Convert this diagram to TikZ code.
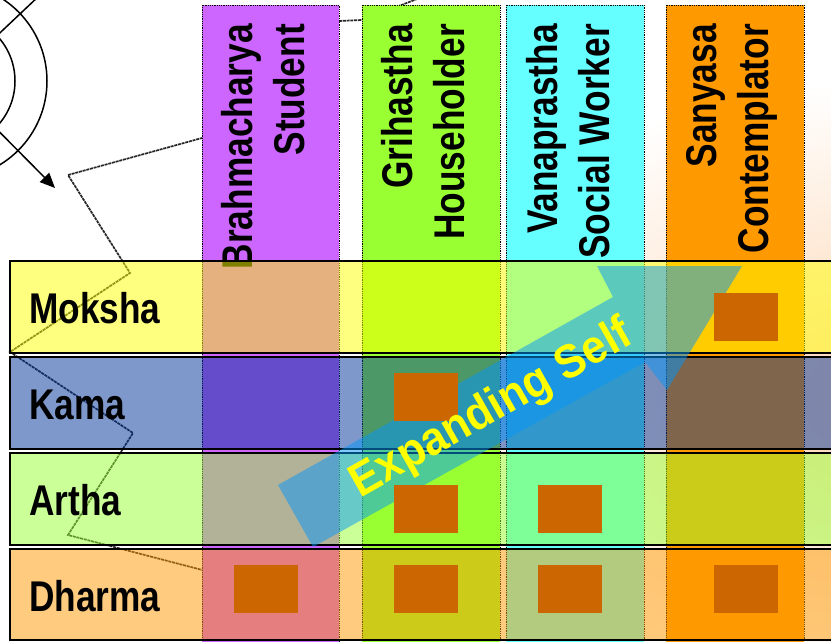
\documentclass[tikz,border=0pt]{standalone}
\usepackage{fontspec}
\setmainfont{Liberation Sans}
\newfontfamily\narrowsans[FakeStretch=0.82]{Liberation Sans}
\newfontfamily\arrowsans[FakeStretch=0.93]{Liberation Sans}
\usetikzlibrary{arrows.meta}
\definecolor{colpurple}{HTML}{CC66FF}
\definecolor{colgreen}{HTML}{99FF33}
\definecolor{colcyan}{HTML}{66FFFF}
\definecolor{colorange}{HTML}{FF9900}
\definecolor{rowyellow}{HTML}{FFFF00}
\definecolor{rowblue}{HTML}{003399}
\definecolor{rowgreen}{HTML}{99FF33}
\definecolor{roworange}{HTML}{FF9900}
\definecolor{sqc}{HTML}{CC6600}
\definecolor{arrowc}{RGB}{5,150,250}
\definecolor{peach}{RGB}{253,213,176}
\definecolor{textyellow}{HTML}{FFFF00}
\begin{document}
\begin{tikzpicture}[x=1pt,y=-1pt,
  colbox/.style={draw=black, dash pattern=on 0.9pt off 0.9pt, line width=0.9pt},
  rowbox/.style={draw=black, line width=1.6pt, fill opacity=0.5},
  sqbox/.style={fill=sqc},
  lbl/.style={font=\narrowsans\bfseries\fontsize{43}{52}\selectfont, inner sep=0pt, text=black},
  collbl/.style={lbl, rotate=90, anchor=north east, align=right},
  edgeline/.style={draw=black!85, line width=1.7pt, dash pattern=on 3pt off 0.8pt},
  circline/.style={draw=black, line width=1.5pt}
]
\useasboundingbox (0,0) rectangle (831,642);
\clip (0,0) rectangle (831,642);
% background
\fill[white] (0,0) rectangle (831,642);
\shade[inner color=peach, outer color=white] (900,400) ellipse [x radius=500, y radius=320];
% white paper shape edges
\draw[edgeline] (425,-4) -- (362,20) -- (339,21) -- (202,138) -- (68,175) -- (130,273) -- (10,352) -- (133,433) -- (68,535) -- (210,572);
% circles and arrows at top left
\coordinate (ctr) at (-51,81);
\coordinate (upend) at (40,-5);
\coordinate (tip) at (55,188);
\draw[circline] (ctr) circle (66);
\draw[circline] (ctr) circle (98);
\draw[circline] (ctr) -- (upend);
\draw[circline, -{Triangle[length=15pt,width=13pt]}] (ctr) -- (tip);
% columns
\path[colbox, fill=colpurple] (202,5) rectangle (339,650);
\path[colbox, fill=colgreen] (362,5) rectangle (500,650);
\path[colbox, fill=colcyan] (506,5) rectangle (644,650);
\path[colbox, fill=colorange] (666,5) rectangle (804,650);
\node[collbl] (c1) at (221,24) {Brahmacharya\\Student};
\node[collbl] (c2) at (381,24) {Grihastha\\Householder};
\node[collbl] (c3) at (526,24) {Vanaprastha\\Social Worker};
\node[collbl] (c4) at (686,24) {Sanyasa\\Contemplator};
% rows
\path[rowbox, fill=rowyellow] (10,261) rectangle (840,353);
\path[rowbox, fill=rowblue] (10,357) rectangle (840,449);
\path[rowbox, fill=rowgreen] (10,453) rectangle (840,545);
\path[rowbox, fill=roworange] (10,549) rectangle (840,640);
\node[lbl, anchor=base west] (moksha) at (29,323) {Moksha};
\node[lbl, anchor=base west] (kama) at (29,419) {Kama};
\node[lbl, anchor=base west] (artha) at (29,515) {Artha};
\node[lbl, anchor=base west] (dharma) at (29,611) {Dharma};
% expanding arrow
\fill[arrowc, fill opacity=0.5] (278,485) -- (613,297) -- (597,266) -- (742,266) -- (667,390) -- (645,362) -- (313,547) -- cycle;
% squares
\fill[sqbox] (714,293) rectangle (778,341);
\fill[sqbox] (394,373) rectangle (458,421);
\fill[sqbox] (394,485) rectangle (458,533);
\fill[sqbox] (538,485) rectangle (602,533);
\fill[sqbox] (234,565) rectangle (298,613);
\fill[sqbox] (394,565) rectangle (458,613);
\fill[sqbox] (538,565) rectangle (602,613);
\fill[sqbox] (714,565) rectangle (778,613);
% arrow text
\node[font=\arrowsans\bfseries\fontsize{47}{54}\selectfont, text=textyellow, rotate=29.5, inner sep=0pt] (expself) at (492,410) {Expanding Self};
\end{tikzpicture}
\end{document}
